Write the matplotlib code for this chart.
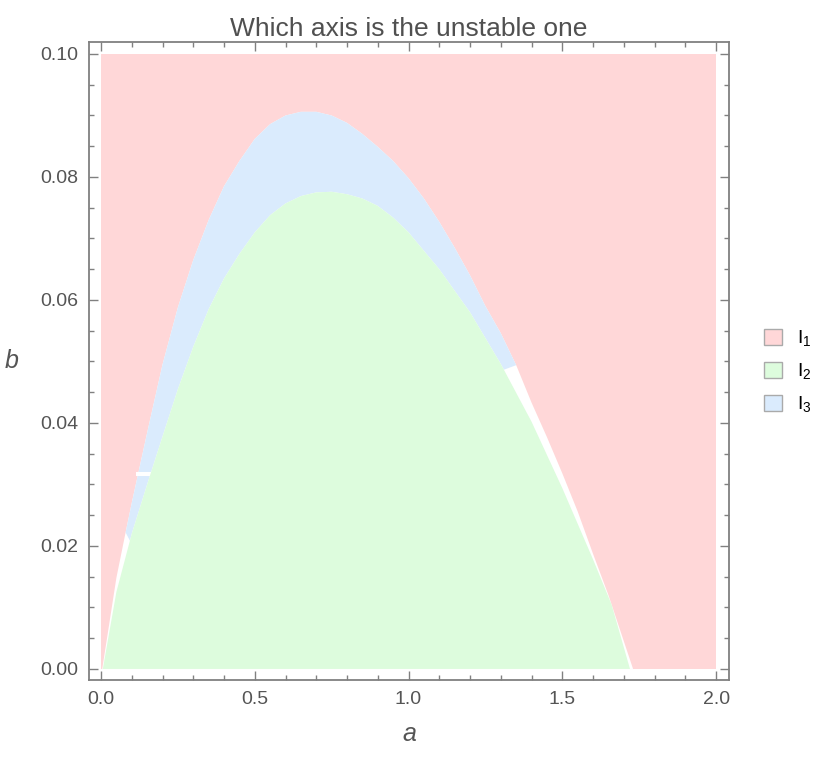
import numpy as np
import matplotlib.pyplot as plt
from matplotlib.patches import Patch
from matplotlib.ticker import MultipleLocator

# outer boundary: edge of the I1 (red) region, left to right
outer_a = [0.004, 0.05, 0.08, 0.10, 0.15, 0.20, 0.25, 0.30, 0.35, 0.40, 0.45,
           0.50, 0.55, 0.60, 0.65, 0.70, 0.75, 0.80, 0.85, 0.90, 0.95, 1.00,
           1.05, 1.10, 1.15, 1.20, 1.25, 1.30, 1.35, 1.40, 1.45, 1.50, 1.55,
           1.60, 1.65, 1.70, 1.73]
outer_b = [0.0, 0.0148, 0.0222, 0.0270, 0.0384, 0.0495, 0.0588, 0.0665, 0.0730,
           0.0785, 0.0826, 0.0862, 0.0886, 0.0900, 0.0906, 0.0906, 0.0900,
           0.0888, 0.0870, 0.0849, 0.0826, 0.0798, 0.0765, 0.0727, 0.0685,
           0.0640, 0.0590, 0.0546, 0.0494, 0.0433, 0.0377, 0.0318, 0.0256,
           0.0187, 0.0120, 0.0045, 0.0]

# I2 (green) region boundary
green_a = [0.006, 0.05, 0.10, 0.15, 0.20, 0.25, 0.30, 0.35, 0.40, 0.45, 0.50,
           0.55, 0.60, 0.65, 0.70, 0.75, 0.80, 0.85, 0.90, 0.95, 1.00, 1.10,
           1.20, 1.30, 1.40, 1.50, 1.60, 1.66, 1.72]
green_b = [0.0, 0.0125, 0.0220, 0.0300, 0.0378, 0.0455, 0.0524, 0.0585, 0.0635,
           0.0675, 0.0710, 0.0738, 0.0757, 0.0769, 0.0775, 0.0776, 0.0772,
           0.0765, 0.0753, 0.0734, 0.0710, 0.0650, 0.0580, 0.0496, 0.0402,
           0.0294, 0.0178, 0.0105, 0.0]

# I3 (blue) band sits between the two curves over these a spans
blue_outer_span = (0.08, 1.35)
blue_inner_span = (0.094, 1.31)

# thin white glitch across the blue band on the left
gap_a = (0.115, 0.17)
gap_b = (0.0314, 0.0320)

labels = ['I$_1$', 'I$_2$', 'I$_3$']
colors = ['#ffd7d8', '#ddfcdd', '#daebfd']

plt.rcParams['font.family'] = ['Liberation Sans', 'DejaVu Sans']
plt.rcParams['mathtext.fontset'] = 'custom'
plt.rcParams['mathtext.rm'] = 'Liberation Sans'

fig = plt.figure(figsize=(8.15, 7.61), dpi=100)
ax = fig.add_axes([0.1092, 0.1064, 0.7853, 0.8384])

# red background
ax.fill_between([0, 2], 0, 0.1, color=colors[0], lw=0)
# everything inside the outer curve starts white
ax.fill(outer_a, outer_b, color='white', lw=0)

oa = np.array(outer_a)
ob = np.array(outer_b)
ga = np.array(green_a)
gb = np.array(green_b)

m = (oa > blue_outer_span[0]) & (oa < blue_outer_span[1])
top_a = np.r_[blue_outer_span[0], oa[m], blue_outer_span[1]]
top_b = np.r_[np.interp(blue_outer_span[0], oa, ob), ob[m],
              np.interp(blue_outer_span[1], oa, ob)]
m = (ga > blue_inner_span[0]) & (ga < blue_inner_span[1])
low_a = np.r_[blue_inner_span[0], ga[m], blue_inner_span[1]]
low_b = np.r_[np.interp(blue_inner_span[0], ga, gb), gb[m],
              np.interp(blue_inner_span[1], ga, gb)]
ax.fill(np.r_[top_a, low_a[::-1]], np.r_[top_b, low_b[::-1]],
        color=colors[2], lw=0)

ax.fill_between(gap_a, gap_b[0], gap_b[1], color='white', lw=0)

ax.fill(green_a, green_b, color=colors[1], lw=0)

ax.set_xlim(-0.039, 2.042)
ax.set_ylim(-0.0018, 0.10195)

ax.xaxis.set_major_locator(MultipleLocator(0.5))
ax.xaxis.set_minor_locator(MultipleLocator(0.1))
ax.yaxis.set_major_locator(MultipleLocator(0.02))
ax.yaxis.set_minor_locator(MultipleLocator(0.005))
ax.xaxis.set_major_formatter(lambda v, p: '%.1f' % v)
ax.yaxis.set_major_formatter(lambda v, p: '%.2f' % v)

grey = '#808080'
for s in ax.spines.values():
    s.set_color(grey)
    s.set_linewidth(1.3)
ax.tick_params(which='both', direction='in', top=True, right=True,
               color=grey, width=1.0, labelcolor='#555555', labelsize=14)
ax.tick_params(which='major', length=6.5, pad=8)
ax.tick_params(which='minor', length=3.5)

ax.set_xlabel('a', fontsize=18, style='italic', color='#555555', labelpad=10)
ax.set_ylabel('b', fontsize=18, style='italic', color='#555555', rotation=0,
              labelpad=20, va='center')
ax.set_title('Which axis is the unstable one', fontsize=19, color='#505050',
             pad=4)

handles = [Patch(facecolor=c, edgecolor='#aaaaaa', lw=1.0) for c in colors]
fig.legend(handles, labels, loc='center left', bbox_to_anchor=(0.916, 0.511),
           frameon=False, fontsize=14, handlelength=0.9, handleheight=0.9,
           handletextpad=0.8, labelspacing=0.65)

fig.savefig('out.png', dpi=100)
